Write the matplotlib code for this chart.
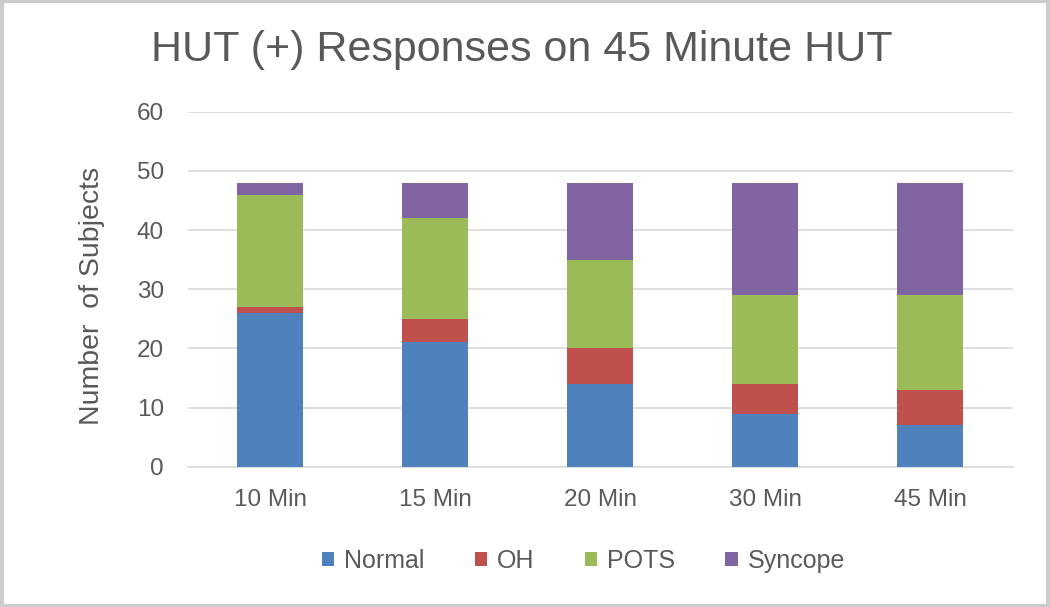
import numpy as np
import matplotlib.pyplot as plt
from matplotlib.patches import Rectangle

plt.rcParams['font.family'] = ['Liberation Sans', 'DejaVu Sans']

categories = ['10 Min', '15 Min', '20 Min', '30 Min', '45 Min']
normal = [26, 21, 14, 9, 7]
oh = [1, 4, 6, 5, 6]
pots = [19, 17, 15, 15, 16]
syncope = [2, 6, 13, 19, 19]

series = [('Normal', normal, '#4f81bd'),
          ('OH', oh, '#c0504d'),
          ('POTS', pots, '#9bbb59'),
          ('Syncope', syncope, '#8064a2')]

fig = plt.figure(figsize=(10.5, 6.07), dpi=100)
ax = fig.add_axes([0.1786, 0.231, 0.7857, 0.585])

x = np.arange(len(categories))
bottom = np.zeros(len(categories))
for name, vals, col in series:
    ax.bar(x, vals, 0.4, bottom=bottom, color=col, label=name, zorder=3)
    bottom += np.array(vals)

ax.set_xlim(-0.5, len(categories) - 0.5)
ax.set_ylim(0, 60)
ax.set_yticks(range(0, 61, 10))
ax.set_xticks(x)
ax.set_xticklabels(categories)
ax.grid(axis='y', color='#d9d9d9', linewidth=1.2, zorder=0)
for s in ['top', 'right', 'left']:
    ax.spines[s].set_visible(False)
ax.spines['bottom'].set_color('#d9d9d9')
ax.spines['bottom'].set_linewidth(1.2)
ax.tick_params(axis='both', length=0, labelsize=17.5, colors='#595959')
ax.tick_params(axis='x', pad=16)
ax.tick_params(axis='y', pad=17)

ax.set_ylabel('Number  of Subjects', fontsize=20.5, color='#595959')
ax.yaxis.set_label_coords(-0.1, 0.48)
fig.text(0.497, 0.917, 'HUT (+) Responses on 45 Minute HUT', ha='center', va='center',
         fontsize=31, color='#595959')

leg = ax.legend(loc='center', bbox_to_anchor=(0.48, -0.265), ncol=4, frameon=False,
                fontsize=18, handlelength=0.5, handleheight=0.5, handletextpad=0.4,
                columnspacing=2.0, labelcolor='#595959')

fig.patches.append(Rectangle((0.0015, 0.002), 0.997, 0.996, transform=fig.transFigure,
                             fill=False, edgecolor='#cccccc', linewidth=3))

fig.savefig('out.png', dpi=100)
